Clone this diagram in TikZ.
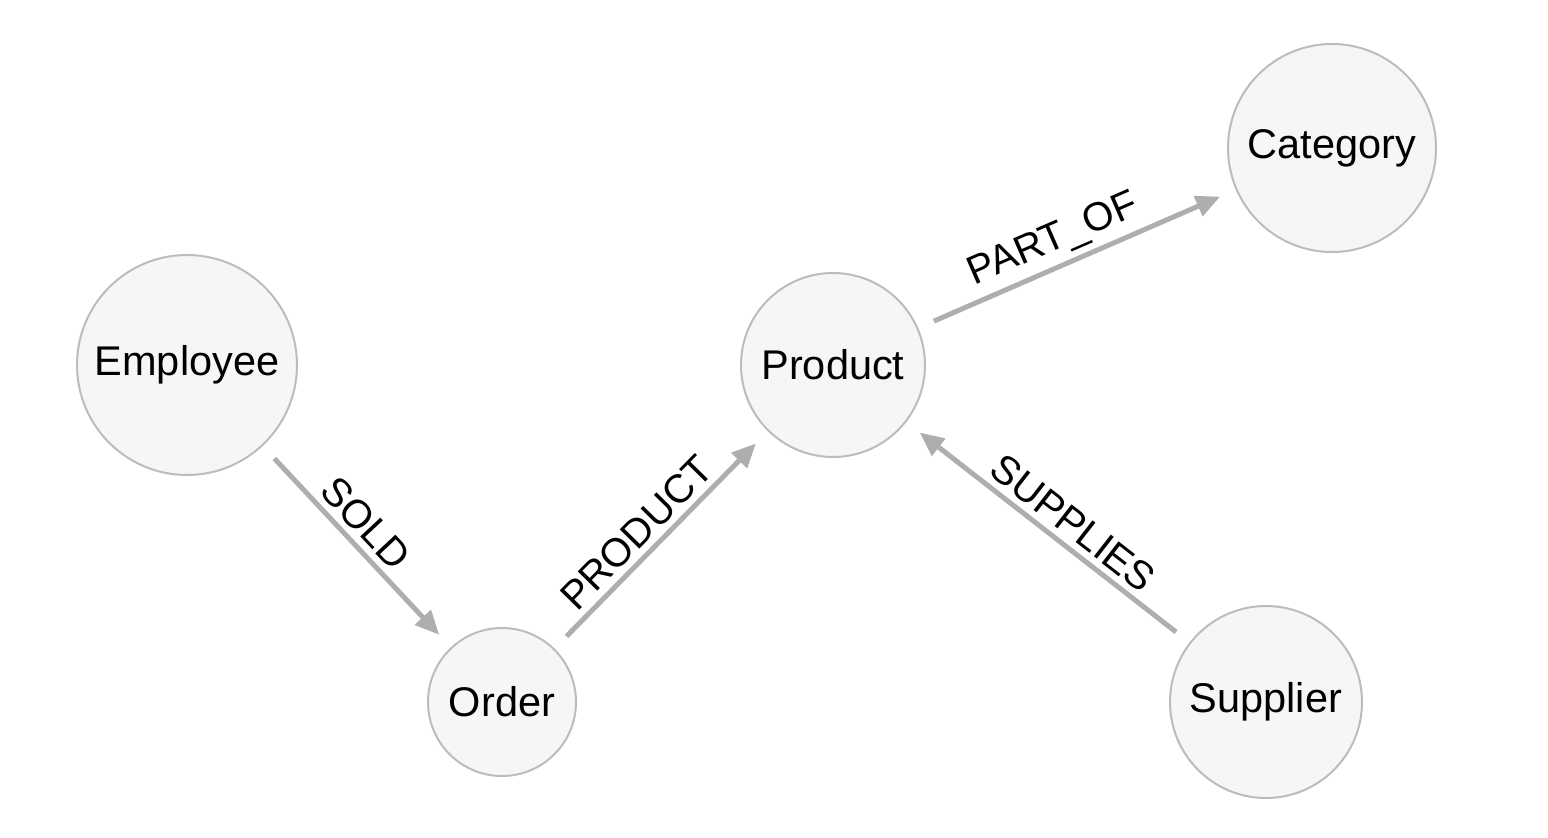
\documentclass[tikz,border=0pt]{standalone}
\usepackage{fontspec}
\setmainfont{Liberation Sans}
\usetikzlibrary{arrows.meta}
\definecolor{nodefill}{HTML}{F5F6F8}
\definecolor{nodeborder}{HTML}{BCBCBC}
\definecolor{edgegray}{HTML}{AEAEAE}
\tikzset{
  entity/.style={circle, draw=nodeborder, line width=2pt, fill=nodefill, inner sep=0pt,
    font=\fontsize{41.5}{48}\selectfont, text=black},
  rel/.style={draw=edgegray, line width=5pt, shorten >=17pt, shorten <=17pt,
    -{Triangle[length=24pt,width=21pt]}},
  rellabel/.style={midway, pos=0.46, sloped, above=6pt, inner sep=0pt,
    font=\fontsize{40}{46}\selectfont, text=black}
}
\begin{document}
\begin{tikzpicture}[x=1pt,y=-1pt]
\useasboundingbox (0,0) rectangle (1548,838);
\node[entity, minimum size=220pt] (emp) at (187,365) {Employee};
\node[entity, minimum size=148pt] (ord) at (502,702) {Order};
\node[entity, minimum size=184pt] (prod) at (833,365) {Product};
\node[entity, minimum size=208pt] (cat) at (1332,148) {Category};
\node[entity, minimum size=192pt] (sup) at (1266,702) {Supplier};
\draw[rel] (emp) -- node[rellabel] {SOLD} (ord);
\draw[rel] (ord) -- node[rellabel] {PRODUCT} (prod);
\draw[rel] (prod) -- node[rellabel] {PART\_OF} (cat);
\draw[rel] (sup) -- node[rellabel] {SUPPLIES} (prod);
\end{tikzpicture}
\end{document}
